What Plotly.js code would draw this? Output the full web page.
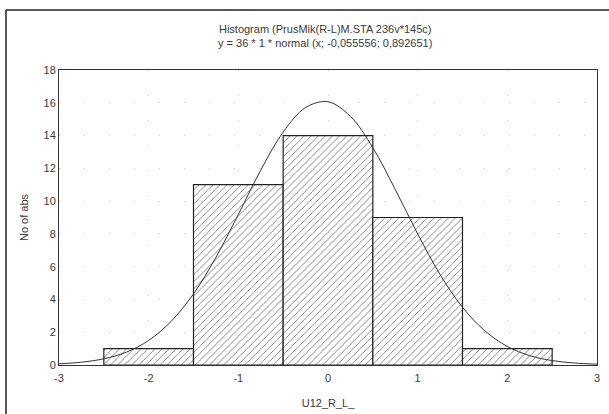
<!DOCTYPE html>
<html>
<head>
<meta charset="utf-8">
<script src="https://cdn.plot.ly/plotly-3.0.1.min.js"></script>
<style>
html,body{margin:0;padding:0;background:#fff;}
#chart{width:609px;height:414px;}
</style>
</head>
<body>
<div id="chart"></div>
<script>
// Histogram bins (centers) and counts
const binCenters = [-2, -1, 0, 1, 2];
const binCounts = [1, 11, 14, 9, 1];

// Fitted normal curve
const curveX = [-3, -2.75, -2.5, -2.25, -2, -1.75, -1.5, -1.25, -1, -0.75, -0.5, -0.25, 0, 0.25, 0.5, 0.75, 1, 1.25, 1.5, 1.75, 2, 2.25, 2.5, 2.75, 3];
const curveY = [0.07, 0.17, 0.38, 0.78, 1.50, 2.66, 4.34, 6.57, 9.19, 11.89, 14.21, 15.71, 16.06, 15.17, 13.26, 10.71, 8.00, 5.52, 3.52, 2.08, 1.13, 0.57, 0.27, 0.12, 0.05];

const xTicks = [-3, -2, -1, 0, 1, 2, 3];
const yTicks = [0, 2, 4, 6, 8, 10, 12, 14, 16, 18];

const titleLines = ["Histogram (PrusMik(R-L)M.STA 236v*145c)", "y = 36 * 1 * normal (x; -0,055556; 0,892651)"];
const xTitle = "U12_R_L_";
const yTitle = "No of abs";

const font = {family: "Liberation Sans, Arial, sans-serif", size: 11, color: "#3a3a3a"};

const traces = [
  {
    type: "bar",
    x: binCenters,
    y: binCounts,
    width: 1,
    marker: {
      color: "#ffffff",
      line: {color: "#222222", width: 1.2},
      pattern: {shape: "/", fgcolor: "#6a6a6a", bgcolor: "#ffffff", size: 5, solidity: 0.16}
    },
    hoverinfo: "skip",
    showlegend: false
  },
  {
    type: "scatter",
    mode: "lines",
    x: curveX,
    y: curveY,
    line: {color: "#333333", width: 1, shape: "spline"},
    hoverinfo: "skip",
    showlegend: false
  }
];

const layout = {
  width: 609,
  height: 414,
  margin: {l: 59, r: 12, t: 70, b: 49},
  paper_bgcolor: "#ffffff",
  plot_bgcolor: "#ffffff",
  font: font,
  showlegend: false,
  bargap: 0,
  title: {
    text: titleLines.join("<br>"),
    x: 0.534, xanchor: "center",
    y: 0.92, yanchor: "top",
    font: {family: font.family, size: 11, color: "#3a3a3a"}
  },
  xaxis: {
    range: [-3, 3],
    tickvals: xTicks,
    ticktext: xTicks.map(v => String(v)),
    showline: true, linecolor: "#333333", linewidth: 1, mirror: true,
    showgrid: true, gridcolor: "#c8c8c8", gridwidth: 1, griddash: "1px,24px",
    zeroline: false,
    ticks: "", ticklen: 0,
    ticklabelstandoff: 3,
    tickfont: font,
    title: {text: xTitle, font: font, standoff: 16}
  },
  yaxis: {
    range: [0, 18],
    tickvals: yTicks,
    ticktext: yTicks.map(v => String(v)),
    showline: true, linecolor: "#333333", linewidth: 1, mirror: true,
    showgrid: true, gridcolor: "#c8c8c8", gridwidth: 1, griddash: "1px,24px",
    zeroline: false,
    ticks: "", ticklen: 0,
    tickfont: font,
    title: {text: yTitle, font: font, standoff: 12}
  },
  shapes: [
    {type: "line", xref: "paper", yref: "paper", x0: -0.0985, x1: -0.0985, y0: -0.2, y1: 1.2034, line: {color: "#222222", width: 1.5}},
    {type: "line", xref: "paper", yref: "paper", x0: -0.0985, x1: 1.03, y0: 1.2034, y1: 1.2034, line: {color: "#222222", width: 1.5}}
  ]
};

Plotly.newPlot("chart", traces, layout, {displayModeBar: false, staticPlot: true});
</script>
</body>
</html>
